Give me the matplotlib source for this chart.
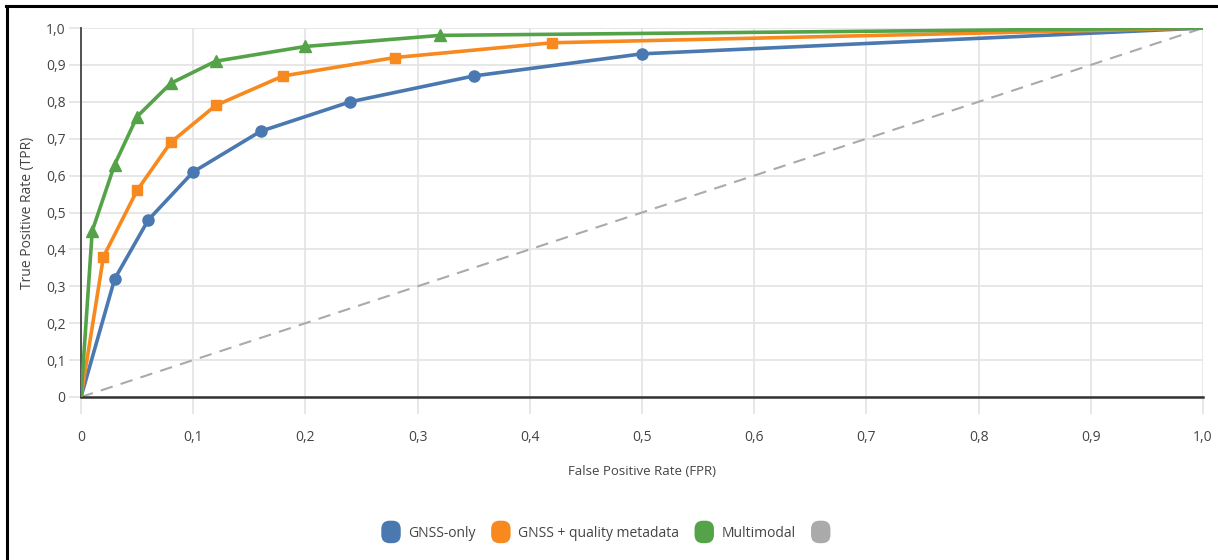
import matplotlib.pyplot as plt
from matplotlib.lines import Line2D
from matplotlib.patches import Patch, FancyBboxPatch
from matplotlib.legend_handler import HandlerPatch

plt.rcParams['font.family'] = ['Open Sans', 'DejaVu Sans']

# Datos (curvas ROC)
fpr_gnss = [0, 0.03, 0.06, 0.10, 0.16, 0.24, 0.35, 0.50, 1.0]
tpr_gnss = [0, 0.32, 0.48, 0.61, 0.72, 0.80, 0.87, 0.93, 1.0]
fpr_meta = [0, 0.02, 0.05, 0.08, 0.12, 0.18, 0.28, 0.42, 1.0]
tpr_meta = [0, 0.38, 0.56, 0.69, 0.79, 0.87, 0.92, 0.96, 1.0]
fpr_multi = [0, 0.01, 0.03, 0.05, 0.08, 0.12, 0.20, 0.32, 1.0]
tpr_multi = [0, 0.45, 0.63, 0.76, 0.85, 0.91, 0.95, 0.98, 1.0]
diag = [0, 1.0]
etiquetas = ["GNSS-only", "GNSS + quality metadata", "Multimodal", ""]
colores = ["#4a78b0", "#f7891f", "#54a348", "#aaaaaa"]
ticks = [i / 10 for i in range(11)]


class HandlerRedondo(HandlerPatch):
    def create_artists(self, legend, orig_handle, xdescent, ydescent, width, height, fontsize, trans):
        p = FancyBboxPatch((-xdescent + 1, -ydescent - 2), width - 2, height + 4,
                           boxstyle="round,pad=0,rounding_size=6",
                           facecolor=orig_handle.get_facecolor(), edgecolor="none", transform=trans)
        return [p]


fig = plt.figure(figsize=(12.18, 5.6), dpi=100)
ax = fig.add_axes([81 / 1218, 1 - 397 / 560, (1203 - 81) / 1218, (397 - 28) / 560])

ax.plot(diag, diag, color=colores[3], lw=1.5, dashes=(6, 4), zorder=2)
# los extremos (0,0) y (1,1) no llevan marcador
ax.plot(fpr_gnss, tpr_gnss, color=colores[0], lw=2.6, marker='o', ms=8, markevery=slice(1, -1), zorder=3)
ax.plot(fpr_meta, tpr_meta, color=colores[1], lw=2.6, marker='s', ms=7, markevery=slice(1, -1), zorder=4)
ax.plot(fpr_multi, tpr_multi, color=colores[2], lw=2.6, marker='^', ms=8.5, markevery=slice(1, -1), zorder=5)

ax.set_xlim(0, 1)
ax.set_ylim(0, 1)
ax.set_xticks(ticks)
ax.set_yticks(ticks)
fmt = lambda v: "0" if v == 0 else f"{v:.1f}".replace('.', ',')
ax.set_xticklabels([fmt(v) for v in ticks])
ax.set_yticklabels([fmt(v) for v in ticks])
ax.grid(True, color="#e3e3e3", lw=1.2, zorder=0)
ax.tick_params(axis='x', length=12, width=1.2, color="#e3e3e3", pad=12, labelsize=10, labelcolor="#444444")
ax.tick_params(axis='y', length=9, width=1.2, color="#e3e3e3", pad=2, labelsize=10, labelcolor="#444444")

for lado in ['top', 'right']:
    ax.spines[lado].set_visible(False)
ax.spines['left'].set_color("#444444")
ax.spines['left'].set_linewidth(1.3)
ax.spines['bottom'].set_color("#333333")
ax.spines['bottom'].set_linewidth(1.8)

ax.set_xlabel("False Positive Rate (FPR)", fontsize=9.5, color="#444444", labelpad=14)
ax.set_ylabel("True Positive Rate (TPR)", fontsize=10, color="#444444", labelpad=8)

handles = [Patch(facecolor=c) for c in colores]
fig.legend(handles, etiquetas, loc='center', bbox_to_anchor=(0.5, 1 - 532 / 560), ncol=4, frameon=False,
           handler_map={Patch: HandlerRedondo()}, handlelength=1.6, handleheight=1.5,
           handletextpad=0.45, columnspacing=1.0, fontsize=10, labelcolor="#444444")

# Borde negro a la izquierda y arriba
fig.add_artist(Line2D([7 / 1218, 7 / 1218], [0, 1 - 6 / 560], color="black", lw=2.2))
fig.add_artist(Line2D([6 / 1218, 1], [1 - 6 / 560, 1 - 6 / 560], color="black", lw=2.2))

fig.savefig("out.png", dpi=100)
